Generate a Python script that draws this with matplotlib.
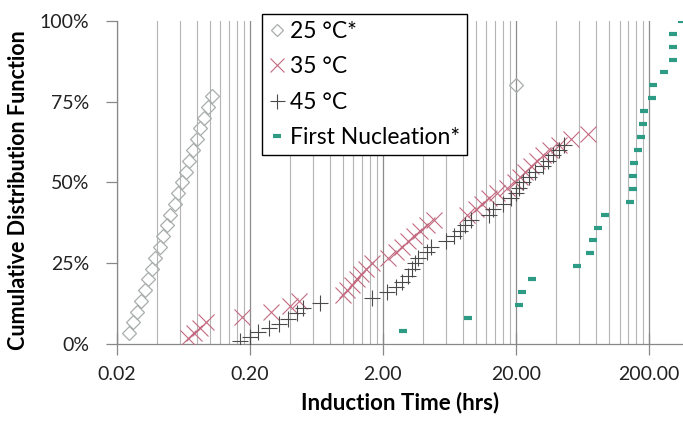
import numpy as np
import matplotlib.pyplot as plt
from matplotlib.ticker import FixedLocator, FixedFormatter, NullFormatter

plt.rcParams['font.family'] = ['Lato', 'DejaVu Sans']

# ---- data ----
# 25 C: induction time (hrs) and cumulative fraction (%)
t25 = [0.0249, 0.0266, 0.0285, 0.0302, 0.0324, 0.0343, 0.0368, 0.0390, 0.0419,
       0.0445, 0.0477, 0.0506, 0.0543, 0.0576, 0.0618, 0.0657, 0.0703, 0.0748,
       0.0800, 0.0851, 0.0910, 0.0968, 0.1040, 20.0]
p25 = [3.3, 6.7, 10.0, 13.3, 16.7, 20.0, 23.3, 26.7, 30.0, 33.3, 36.7, 40.0,
       43.3, 46.7, 50.0, 53.3, 56.7, 60.0, 63.3, 66.7, 70.0, 73.3, 76.7, 80.0]

# 35 C
t35 = [0.068, 0.076, 0.084, 0.093, 0.175, 0.29, 0.40, 0.47, 1.00, 1.08, 1.18,
       1.28, 1.38, 1.50, 1.65, 2.2, 2.5, 2.8, 3.1, 3.4, 3.8, 4.3, 4.8, 8.5,
       10.0, 11.2, 12.5, 14.5, 17.0, 19.5, 21.5, 23.5, 26.0, 29.0, 32.0, 36.0,
       42.0, 52.0, 70.0]
p35 = [1.7, 3.3, 5.0, 6.7, 8.3, 10.0, 11.7, 13.3, 15.0, 16.7, 18.3, 20.0, 21.7,
       23.3, 25.0, 26.7, 28.3, 30.0, 31.7, 33.3, 35.0, 36.7, 38.3, 40.0, 41.7,
       43.3, 45.0, 46.7, 48.3, 50.0, 51.7, 53.3, 55.0, 56.7, 58.3, 60.0, 61.7,
       63.3, 65.0]

# 45 C
t45 = [0.17, 0.20, 0.23, 0.28, 0.33, 0.39, 0.45, 0.50, 0.67, 1.65, 2.15, 2.5,
       2.8, 3.1, 3.3, 3.5, 3.65, 4.3, 4.6, 6.0, 6.9, 7.6, 8.3, 9.2, 12.5, 13.5,
       16.0, 18.5, 20.0, 21.0, 22.5, 25.0, 28.0, 32.0, 35.0, 38.0, 42.0, 46.0]
p45 = [1.0, 2.0, 3.7, 5.0, 6.3, 7.8, 9.5, 11.0, 12.8, 14.3, 16.0, 17.6, 19.2,
       21.0, 23.3, 25.0, 26.7, 28.3, 30.0, 31.7, 33.3, 35.0, 36.7, 38.3, 40.0,
       41.7, 43.3, 45.0, 46.7, 48.3, 50.0, 51.7, 53.3, 55.0, 56.7, 58.3, 60.0,
       61.7]

# First nucleation
tfn = [2.83, 8.7, 21.0, 22.2, 26.4, 57.6, 72.0, 76.0, 82.8, 93.0, 144.0, 152.0,
       152.0, 155.0, 164.0, 174.0, 180.0, 184.0, 211.0, 214.0, 259.0, 303.0,
       303.0, 303.0, 353.0]
pfn = [4, 8, 12, 16, 20, 24, 28, 32, 36, 40, 44, 48, 52, 56, 60, 64, 68, 72,
       76, 80, 84, 88, 92, 96, 100]

xticks = [0.02, 0.2, 2, 20, 200]
xticklabels = ['0.02', '0.20', '2.00', '20.00', '200.00']
yticks = [0, 25, 50, 75, 100]
yticklabels = ['0%', '25%', '50%', '75%', '100%']

# ---- figure ----
fig = plt.figure(figsize=(6.83, 4.23), dpi=100)
ax = fig.add_axes([0.171, 0.187, 0.829, 0.764])

ax.set_xscale('log')
ax.set_xlim(0.02, 360)
ax.set_ylim(0, 100)

# gridlines at 0.02 * k * 10^n
minor = [0.02 * k * 10 ** n for n in range(5) for k in range(2, 10)]
ax.xaxis.set_major_locator(FixedLocator(xticks))
ax.xaxis.set_major_formatter(FixedFormatter(xticklabels))
ax.xaxis.set_minor_locator(FixedLocator(minor))
ax.xaxis.set_minor_formatter(NullFormatter())
ax.grid(True, which='minor', axis='x', color='#b4b4b4', lw=0.8)
ax.grid(True, which='major', axis='x', color='#8c8c8c', lw=0.9)
ax.set_axisbelow(True)

ax.plot(t25, p25, ls='none', marker='D', ms=7, mfc='none', mec='#a8aeac',
        mew=0.9, label='25 °C*', zorder=3)
ax.plot(t35, p35, ls='none', marker='x', ms=11, mec='#c46a80', mew=0.8,
        label='35 °C', zorder=4)
ax.plot(t45, p45, ls='none', marker='+', ms=12, mec='#4a4a4a', mew=0.8,
        label='45 °C', zorder=5)
ax.plot(tfn, pfn, ls='none', marker='_', ms=6, mec='#2e9c84', mew=3,
        label='First Nucleation*', zorder=6)

ax.set_yticks(yticks)
ax.set_yticklabels(yticklabels)
for s in ['top', 'right']:
    ax.spines[s].set_visible(False)
for s in ['left', 'bottom']:
    ax.spines[s].set_color('#888888')
    ax.spines[s].set_linewidth(0.9)
ax.tick_params(axis='both', which='major', labelsize=14, colors='#888888',
               labelcolor='#222222', length=8, width=0.9)
ax.tick_params(axis='x', which='major', direction='inout', length=16, pad=8)
ax.tick_params(axis='x', which='minor', length=0)
ax.tick_params(axis='y', pad=12)

ax.set_xlabel('Induction Time (hrs)', fontsize=16, fontweight='bold',
              labelpad=6)
ax.set_ylabel('Cumulative Distribution Function', fontsize=15.5,
              fontweight='bold')
ax.yaxis.set_label_coords(-0.155, 0.475)

leg = ax.legend(loc='upper left', bbox_to_anchor=(0.256, 1.02), fontsize=16.5,
                frameon=True, fancybox=False, edgecolor='black', framealpha=1,
                handlelength=0.7, handletextpad=0.25, labelspacing=0.62,
                borderpad=0.3, borderaxespad=0, markerscale=0.9)
leg.get_frame().set_linewidth(1.0)

fig.savefig('out.png', dpi=100)
